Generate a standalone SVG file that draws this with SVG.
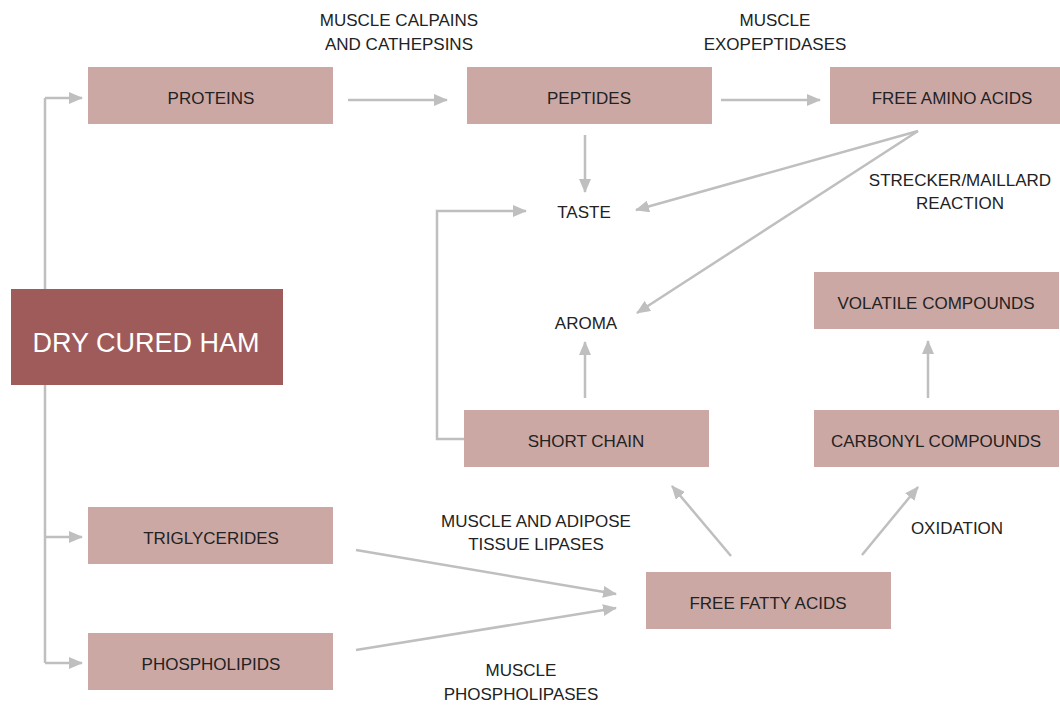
<svg xmlns="http://www.w3.org/2000/svg" width="1060" height="705" viewBox="0 0 1060 705">
<defs>
<marker id="ah" markerUnits="userSpaceOnUse" markerWidth="14" markerHeight="12" refX="13" refY="6" orient="auto">
<path d="M0,0 L14,6 L0,12 Z" fill="#bfbfbf"/>
</marker>
<style>
.box{fill:#cca8a5}
.t{font-family:"Liberation Sans",Arial,sans-serif;font-size:17px;fill:#222;text-anchor:middle}
.c{fill:none;stroke:#bfbfbf;stroke-width:2.5}
.a{marker-end:url(#ah)}
</style>
</defs>
<rect width="1060" height="705" fill="#fff"/>
<g id="connectors">
<path class="c" d="M45,663 V98"/>
<path class="c a" d="M45,98 H82"/>
<path class="c a" d="M45,537 H82"/>
<path class="c a" d="M45,663 H82"/>
<path class="c a" d="M348,100 H447"/>
<path class="c a" d="M721,100 H820"/>
<path class="c a" d="M585,135 V192"/>
<path class="c a" d="M918,131 L636,210"/>
<path class="c a" d="M918,131 L637,313"/>
<path class="c a" d="M464,439 H437 V211 H526"/>
<path class="c a" d="M585,398 V342"/>
<path class="c a" d="M928,398 V341"/>
<path class="c a" d="M731,556 L672,486"/>
<path class="c a" d="M862,555 L918,487"/>
<path class="c a" d="M356,550 L616,594"/>
<path class="c a" d="M356,650 L616,608"/>
</g>
<g id="dry-cured-ham"><rect x="11" y="289" width="272" height="96" fill="#9e5b59"/><text x="146" y="352" font-family="'Liberation Sans',Arial,sans-serif" font-size="27" fill="#fff" text-anchor="middle">DRY CURED HAM</text></g>
<g id="proteins"><rect class="box" x="88" y="67" width="245" height="57"/><text class="t" x="211" y="104">PROTEINS</text></g>
<g id="peptides"><rect class="box" x="467" y="67" width="245" height="57"/><text class="t" x="589" y="104">PEPTIDES</text></g>
<g id="free-amino-acids"><rect class="box" x="830" y="67" width="230" height="57"/><text class="t" x="952" y="104">FREE AMINO ACIDS</text></g>
<g id="taste"><text class="t" x="584" y="218">TASTE</text></g>
<g id="aroma"><text class="t" x="586" y="329">AROMA</text></g>
<g id="volatile-compounds"><rect class="box" x="814" y="272" width="245" height="57"/><text class="t" x="936" y="309">VOLATILE COMPOUNDS</text></g>
<g id="short-chain"><rect class="box" x="464" y="410" width="245" height="57"/><text class="t" x="586" y="447">SHORT CHAIN</text></g>
<g id="carbonyl-compounds"><rect class="box" x="814" y="410" width="245" height="57"/><text class="t" x="936" y="447">CARBONYL COMPOUNDS</text></g>
<g id="triglycerides"><rect class="box" x="88" y="507" width="245" height="57"/><text class="t" x="211" y="544">TRIGLYCERIDES</text></g>
<g id="free-fatty-acids"><rect class="box" x="646" y="572" width="245" height="57"/><text class="t" x="768" y="609">FREE FATTY ACIDS</text></g>
<g id="phospholipids"><rect class="box" x="88" y="633" width="245" height="57"/><text class="t" x="211" y="670">PHOSPHOLIPIDS</text></g>
<g id="labels">
<text class="t" x="399" y="26">MUSCLE CALPAINS</text>
<text class="t" x="399" y="50">AND CATHEPSINS</text>
<text class="t" x="775" y="26">MUSCLE</text>
<text class="t" x="775" y="50">EXOPEPTIDASES</text>
<text class="t" x="960" y="186">STRECKER/MAILLARD</text>
<text class="t" x="960" y="209">REACTION</text>
<text class="t" x="536" y="527">MUSCLE AND ADIPOSE</text>
<text class="t" x="536" y="550">TISSUE LIPASES</text>
<text class="t" x="957" y="534">OXIDATION</text>
<text class="t" x="521" y="676">MUSCLE</text>
<text class="t" x="521" y="700">PHOSPHOLIPASES</text>
</g>
</svg>
